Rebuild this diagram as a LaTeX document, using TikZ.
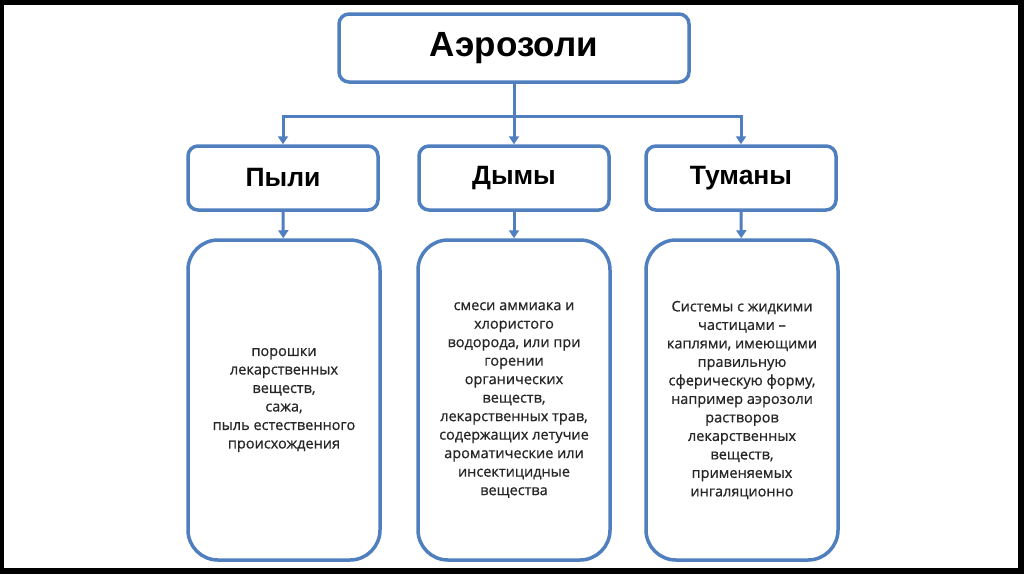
\documentclass[tikz,border=0pt]{standalone}
\usepackage{fontspec}
\setmainfont{Liberation Sans}
\newfontfamily\bodyfont[FakeBold=0.7]{Open Sans}
\usetikzlibrary{arrows.meta,positioning}
\definecolor{boxblue}{HTML}{4F7FBE}

\begin{document}
\begin{tikzpicture}[x=1pt, y=-1pt, >={Triangle[width=10pt,length=8pt]}, line width=3pt,
    headbox/.style={rectangle, draw=boxblue, line width=3.5pt, rounded corners=10pt, fill=white, font=\fontsize{35}{40}\bfseries\selectfont},
    groupbox/.style={rectangle, draw=boxblue, line width=3.5pt, rounded corners=10pt, fill=white, minimum width=190pt, minimum height=64pt, font=\fontsize{26.5}{30}\bfseries\selectfont},
    textbox/.style={rectangle, draw=boxblue, line width=3.5pt, rounded corners=30pt, fill=white, minimum width=192pt, minimum height=320pt, align=center, text=black!85, font=\bodyfont\fontsize{14.5}{18.5}\selectfont}]
        % frame
        \fill[black] (0,0) rectangle (1024,574);
        \fill[white] (4,5) rectangle (1018,568);
        \useasboundingbox (0,0) rectangle (1024,574);

        \node (aero) [headbox, minimum width=350pt, minimum height=68pt] at (514,48) {Аэрозоли};

        \node (pyli) [groupbox] at (283,178) {Пыли};
        \node (dymy) [groupbox] at (514,178) {Дымы};
        \node (tumany) [groupbox] at (741,178) {Туманы};

        \node (pyli text) [textbox] at (284,400) {порошки\\ лекарственных\\ веществ,\\ сажа,\\ пыль естественного\\ происхождения};
        \node (dymy text) [textbox] at (514,400) {смеси аммиака и\\ хлористого\\ водорода, или при\\ горении\\ органических\\ веществ,\\ лекарственных трав,\\ содержащих летучие\\ ароматические или\\ инсектицидные\\ вещества};
        \node (tumany text) [textbox] at (742,400) {Системы с жидкими\\ частицами –\\ каплями, имеющими\\ правильную\\ сферическую форму,\\ например аэрозоли\\ растворов\\ лекарственных\\ веществ,\\ применяемых\\ ингаляционно};

        % branching
        \draw [boxblue] (aero.south) -- ++(0,33) coordinate (split);
        \draw [boxblue, ->] (split) -| (pyli.north);
        \draw [boxblue, ->] (split) -- (dymy.north);
        \draw [boxblue, ->] (split) -| (tumany.north);

        \draw [boxblue, ->] (pyli) -- (pyli text);
        \draw [boxblue, ->] (dymy) -- (dymy text);
        \draw [boxblue, ->] (tumany) -- (tumany text);
    \end{tikzpicture}
\end{document}
